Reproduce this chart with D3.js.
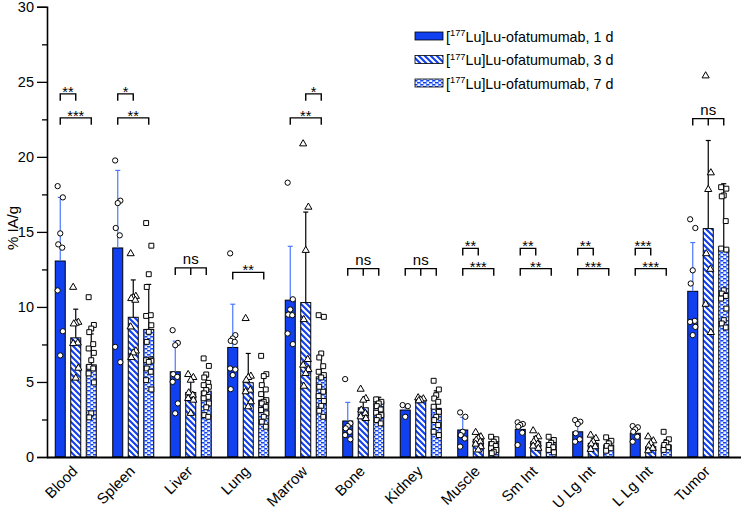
<!DOCTYPE html>
<html>
<head>
<meta charset="utf-8">
<script src="https://cdn.jsdelivr.net/npm/d3@7"></script>
<style>
  body { margin: 0; background: #fff; }
  svg { display: block; font-family: Arial, "Liberation Sans", sans-serif; }
</style>
</head>
<body>
<svg id="chart" width="742" height="510"></svg>
<script>
// ---------------- DATA ----------------
const categories = ["Blood","Spleen","Liver","Lung","Marrow","Bone","Kidney","Muscle","Sm Int","U Lg Int","L Lg Int","Tumor"];
const seriesNames = ["1 d","3 d","7 d"];

const mean1d = [13.06, 13.93, 5.68, 7.30, 10.45, 2.40, 3.13, 1.80, 1.84, 1.68, 1.58, 11.04];
const mean3d = [7.94, 9.31, 4.30, 4.95, 10.29, 3.28, 3.86, 1.18, 1.02, 0.91, 0.69, 15.22];
const mean7d = [6.14, 8.50, 4.39, 3.79, 5.34, 3.68, 3.24, 1.02, 0.95, 0.80, 0.80, 13.82];

const sd1d = [4.24, 5.17, 2.04, 2.88, 3.59, 1.24, 0.37, 0.84, 0.36, 0.52, 0.37, 3.25];
const sd3d = [1.91, 2.49, 0.82, 1.95, 6.03, 0.52, 0.10, 0.35, 0.35, 0.30, 0.30, 5.87];
const sd7d = [2.06, 3.00, 0.95, 1.73, 1.45, 0.30, 1.17, 0.30, 0.30, 0.28, 0.35, 4.39];

const points1d = [
  [18.05, 17.3, 14.9, 14.17, 13.95, 11.1, 8.38, 6.77],
  [19.76, 17.08, 16.92, 15.26, 14.77, 7.34, 6.32],
  [8.45, 7.6, 7.45, 5.52, 5.34, 5.01, 3.57, 2.91],
  [13.57, 8.12, 7.9, 7.74, 7.67, 5.9, 5.83, 5.46, 4.52],
  [18.28, 10.51, 9.83, 9.49, 9.45, 8.23, 7.52],
  [5.19, 2.24, 2.06, 1.91, 1.68, 1.46, 1.18],
  [3.46, 3.39, 2.68],
  [2.97, 2.68, 1.68, 1.46, 1.24, 0.69],
  [2.31, 2.2, 2.13, 2.02, 1.62, 0.8],
  [2.46, 2.35, 2.2, 1.58, 1.18, 1.02],
  [2.06, 1.98, 1.84, 1.68, 1.35, 1.02],
  [15.84, 15.26, 12.44, 11.56, 9.07, 9.0, 8.67, 8.12]
];
const points3d = [
  [11.31, 8.98, 8.92, 8.87, 7.6, 7.56, 5.92, 5.26],
  [13.55, 10.71, 10.63, 10.56, 10.45, 8.67, 7.07, 6.94, 6.63],
  [5.5, 5.3, 5.12, 4.28, 4.12, 3.9, 3.79, 2.91],
  [9.23, 5.39, 5.3, 5.12, 4.46, 4.35, 3.68, 3.35],
  [20.87, 16.65, 13.77, 9.16, 6.5, 6.12, 5.83, 5.57, 4.72],
  [4.52, 3.9, 3.79, 3.13, 2.91, 2.68, 2.57],
  [3.95, 3.88, 3.8, 3.75],
  [1.64, 1.35, 1.24, 1.13, 1.02, 0.86, 0.69, 0.47],
  [1.75, 1.35, 1.18, 1.02, 0.86, 0.73, 0.58],
  [1.46, 1.24, 1.02, 0.86, 0.69, 0.51],
  [1.35, 1.08, 0.91, 0.73, 0.58, 0.42],
  [25.4, 18.94, 17.83, 13.55, 12.51, 10.18, 8.3]
];
const points7d = [
  [10.65, 8.8, 8.56, 8.32, 7.52, 7.23, 6.94, 6.45, 6.01, 5.9, 5.57, 4.97, 2.91, 2.64],
  [15.59, 14.08, 12.18, 11.33, 9.45, 9.4, 8.78, 8.34, 7.67, 6.5, 6.45, 6.41, 6.34, 5.9, 5.68, 5.12, 4.5],
  [6.57, 6.07, 5.5, 5.3, 4.94, 4.79, 4.68, 4.46, 4.24, 4.01, 3.91, 3.57, 3.31, 2.79, 2.68],
  [6.74, 5.52, 5.39, 4.79, 4.5, 4.19, 3.79, 3.68, 3.57, 3.35, 3.13, 2.91, 2.68, 2.35, 2.02],
  [9.45, 9.34, 6.9, 6.63, 6.05, 5.68, 5.46, 5.3, 4.68, 4.35, 4.06, 3.73, 3.41, 3.08, 2.68],
  [3.84, 3.68, 3.57, 3.39, 3.17, 2.95, 2.79, 2.68, 2.46, 2.24],
  [5.08, 4.5, 4.12, 3.9, 3.68, 3.35, 3.01, 2.68, 2.46, 2.13, 1.68, 1.46],
  [1.35, 1.18, 1.02, 0.86, 0.73, 0.58, 0.47, 0.35, 0.25],
  [1.35, 1.13, 0.95, 0.8, 0.65, 0.47, 0.31],
  [1.31, 1.08, 0.91, 0.73, 0.58, 0.42],
  [1.68, 1.18, 0.95, 0.8, 0.65, 0.47],
  [17.98, 17.88, 17.43, 17.37, 15.72, 13.89, 13.82, 11.11, 10.89, 10.73, 10.56, 9.89, 9.12, 8.9, 8.63]
];

const yTicks = [0, 5, 10, 15, 20, 25, 30];
const yMinorTicks = [2.5, 7.5, 12.5, 17.5, 22.5, 27.5];

// significance brackets: category, from series, to series, height (in %IA/g), label, middle tick
const sigCategory = ["Blood","Blood","Spleen","Spleen","Liver","Lung","Marrow","Marrow","Bone","Kidney","Muscle","Muscle","Sm Int","Sm Int","U Lg Int","U Lg Int","L Lg Int","L Lg Int","Tumor"];
const sigFrom     = [0,0,0,0,0,0,1,0,0,0,0,0,0,0,0,0,0,0,0];
const sigTo       = [1,2,1,2,2,2,2,2,2,2,1,2,1,2,1,2,1,2,2];
const sigHeight   = [24.2,22.6,24.2,22.6,12.6,12.3,24.2,22.6,12.55,12.55,13.9,12.55,13.9,12.55,13.9,12.55,13.9,12.55,22.55];
const sigLabel    = ["**","***","*","**","ns","**","*","**","ns","ns","**","***","**","**","**","***","***","***","ns"];
const sigMid      = [false,false,false,false,true,false,false,false,true,true,false,false,false,false,false,false,false,false,true];

// ---------------- CHART ----------------
const BLUE = "#1040f0";
const ERR_BLUE = "#4a78ff";
const svg = d3.select("#chart");

const defs = svg.append("defs");
// diagonal stripes (3 d)
const pStripe = defs.append("pattern").attr("id","stripes").attr("patternUnits","userSpaceOnUse")
  .attr("width",6).attr("height",6);
pStripe.append("rect").attr("width",6).attr("height",6).attr("fill",BLUE);
pStripe.append("path").attr("d","M-1,-1 L7,7 M-1,5 L1,7 M5,-1 L7,1")
  .attr("stroke","#fff").attr("stroke-width",2.1);
// brick dashes (7 d)
const pBrick = defs.append("pattern").attr("id","bricks").attr("patternUnits","userSpaceOnUse")
  .attr("width",6).attr("height",4);
pBrick.append("rect").attr("width",6).attr("height",4).attr("fill","#eef2ff");
pBrick.append("rect").attr("x",0).attr("y",0).attr("width",3.4).attr("height",1.5).attr("fill",BLUE);
pBrick.append("rect").attr("x",3).attr("y",2).attr("width",3.4).attr("height",1.5).attr("fill",BLUE);
pBrick.append("rect").attr("x",0).attr("y",0).attr("width",0.8).attr("height",4).attr("fill","#5a82ff");

const fills = [BLUE, "url(#stripes)", "url(#bricks)"];
const errColors = [ERR_BLUE, "#000", "#000"];
const means = [mean1d, mean3d, mean7d];
const sds = [sd1d, sd3d, sd7d];
const points = [points1d, points3d, points7d];

const x0 = d3.scaleBand().domain(categories).range([47, 737]).paddingInner(0).paddingOuter(0);
const x1 = d3.scaleBand().domain([0,1,2]).range([8.25, 49.25]).paddingInner(0.355).paddingOuter(0);
const y = d3.scaleLinear().domain([0, 30]).range([457, 6.8]);

const barCenter = (ci, s) => x0(categories[ci]) + x1(s) + x1.bandwidth() / 2;

// bars
const gBars = svg.append("g");
for (let s = 0; s < 3; s++) {
  gBars.selectAll(null).data(means[s]).enter().append("rect")
    .attr("x", (d, i) => x0(categories[i]) + x1(s))
    .attr("y", d => y(d))
    .attr("width", x1.bandwidth())
    .attr("height", d => y(0) - y(d))
    .attr("fill", fills[s])
    .attr("stroke", "#000").attr("stroke-width", 1);
}

// error bars (upper)
const gErr = svg.append("g");
for (let s = 0; s < 3; s++) {
  means[s].forEach((m, i) => {
    const cx = barCenter(i, s);
    const top = y(m + sds[s][i]);
    gErr.append("line").attr("x1", cx).attr("x2", cx).attr("y1", y(m)).attr("y2", top)
      .attr("stroke", errColors[s]).attr("stroke-width", 1.2);
    gErr.append("line").attr("x1", cx - 2.5).attr("x2", cx + 2.5).attr("y1", top).attr("y2", top)
      .attr("stroke", errColors[s]).attr("stroke-width", 1.2);
  });
}

// points
const gPts = svg.append("g");
const symbols = [d3.symbolCircle, d3.symbolTriangle, d3.symbolSquare];
const symSize = [22, 22, 24];
const jitter = [-2.6, 2.6, 0, -2.0, 2.0];
for (let s = 0; s < 3; s++) {
  points[s].forEach((arr, i) => {
    const cx = barCenter(i, s);
    arr.forEach((v, k) => {
      gPts.append("path")
        .attr("d", d3.symbol().type(symbols[s]).size(symSize[s])())
        .attr("transform", `translate(${cx + jitter[k % jitter.length]},${y(v)})`)
        .attr("fill", "#fff").attr("stroke", "#000").attr("stroke-width", 1);
    });
  });
}

// significance brackets
const gSig = svg.append("g");
sigCategory.forEach((c, j) => {
  const ci = categories.indexOf(c);
  const xa = barCenter(ci, sigFrom[j]);
  const xb = barCenter(ci, sigTo[j]);
  const yy = y(sigHeight[j]);
  let d = `M${xa},${yy + 7} L${xa},${yy} L${xb},${yy} L${xb},${yy + 7}`;
  if (sigMid[j]) { const xm = barCenter(ci, 1); d += ` M${xm},${yy} L${xm},${yy + 7}`; }
  gSig.append("path").attr("d", d).attr("fill", "none").attr("stroke", "#000").attr("stroke-width", 1.4);
  const isNs = sigLabel[j] === "ns";
  gSig.append("text").attr("x", (xa + xb) / 2).attr("y", isNs ? yy - 4 : yy + 3)
    .attr("text-anchor", "middle").attr("font-size", isNs ? 15 : 14.5).text(sigLabel[j]);
});

// Y axis
const yAxis = svg.append("g").attr("transform", "translate(47,0)")
  .call(d3.axisLeft(y).tickValues(yTicks).tickSize(10).tickPadding(3).tickFormat(d3.format("d")));
yAxis.select(".domain").attr("stroke-width", 1.6);
yAxis.selectAll(".tick line").attr("stroke-width", 1.3);
yAxis.selectAll("text").attr("font-size", 14.5).attr("font-family", "Arial, 'Liberation Sans', sans-serif").attr("fill", "#000");
const yMinor = svg.append("g").attr("transform", "translate(47,0)")
  .call(d3.axisLeft(y).tickValues(yMinorTicks).tickSize(5).tickFormat(""));
yMinor.select(".domain").remove();
yMinor.selectAll(".tick line").attr("stroke-width", 1.3);

svg.append("text").attr("transform", "translate(18,228) rotate(-90)")
  .attr("text-anchor", "middle").attr("font-size", 15).text("% IA/g");

// X axis
const xAxis = svg.append("g").attr("transform", "translate(0,457.5)")
  .call(d3.axisBottom(x0).tickSize(0).tickPadding(0));
xAxis.select(".domain").attr("d", "M47,0H741").attr("stroke-width", 2.2);
xAxis.selectAll(".tick text")
  .attr("font-size", 15).attr("font-family", "Arial, 'Liberation Sans', sans-serif").attr("fill", "#000")
  .attr("text-anchor", "end").attr("dy", "0.35em")
  .attr("transform", "translate(-1,11) rotate(-45)");

// Legend
const legend = svg.append("g");
const legendY = [32, 55.5, 79];
seriesNames.forEach((nm, s) => {
  legend.append("rect").attr("x", 415).attr("y", legendY[s]).attr("width", 28).attr("height", 8)
    .attr("fill", fills[s]).attr("stroke", "#000").attr("stroke-width", 0.8);
  const t = legend.append("text").attr("x", 446).attr("y", legendY[s] + 9.5).attr("font-size", 14.3);
  t.append("tspan").text("[");
  t.append("tspan").attr("font-size", 9.3).attr("dy", -5.3).text("177");
  t.append("tspan").attr("dy", 5.3).text("Lu]Lu-ofatumumab, " + nm);
});
</script>
</body>
</html>
